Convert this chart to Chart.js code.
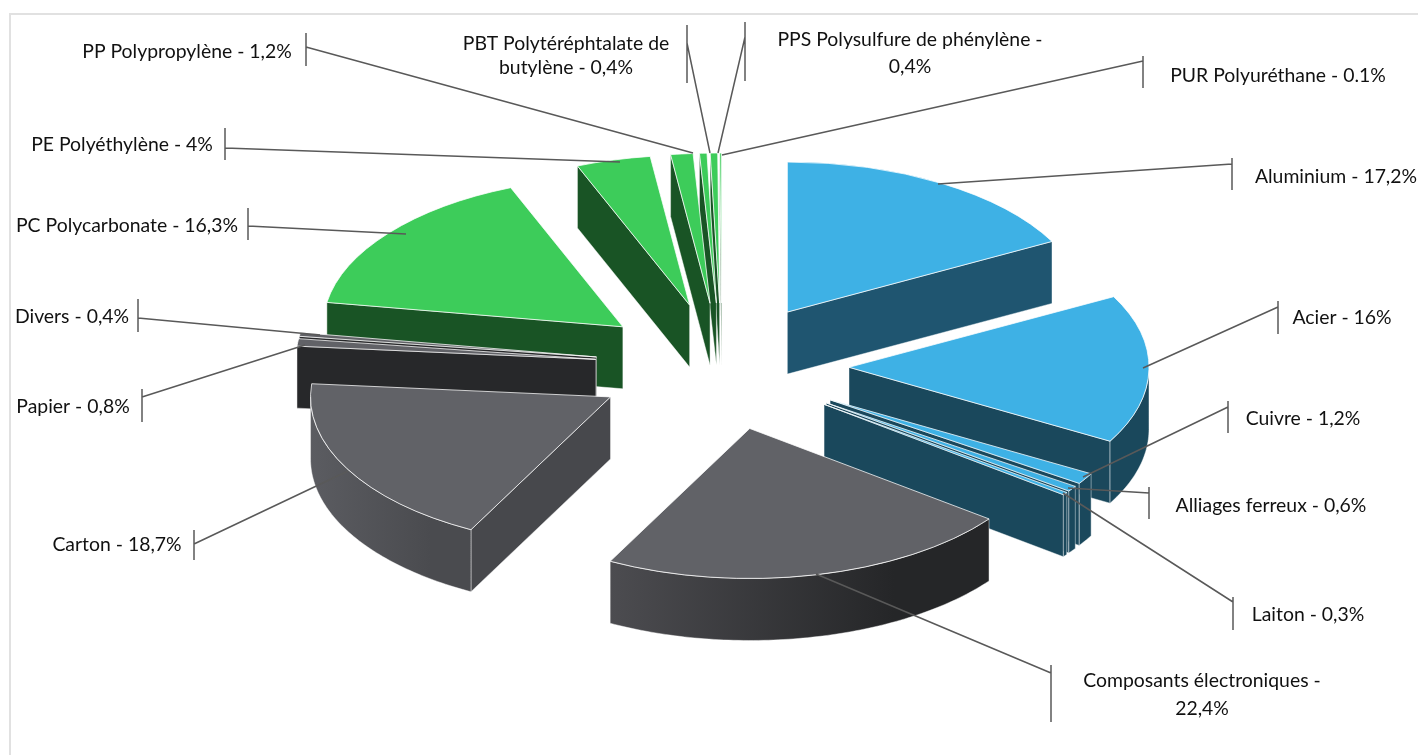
<!DOCTYPE html>
<html>
<head>
<meta charset="utf-8">
<style>
  html, body { margin: 0; padding: 0; background: #fff; overflow: hidden; }
  #box { position: absolute; left: 0; top: 0; width: 1418px; height: 755px; }
</style>
<script src="https://cdn.jsdelivr.net/npm/chart.js@4"></script>
</head>
<body>
<div id="box"><canvas id="pie"></canvas></div>
<script>
// slices, clockwise from 12 o'clock
const categories = ["Aluminium", "Acier", "Cuivre", "Alliages ferreux", "Laiton", "Composants électroniques", "Carton", "Papier", "Divers", "PC Polycarbonate", "PE Polyéthylène", "PP Polypropylène", "PBT Polytéréphtalate de butylène", "PPS Polysulfure de phénylène", "PUR Polyuréthane"];
const values = [17.2, 16, 1.2, 0.6, 0.3, 22.4, 18.7, 0.8, 0.4, 16.3, 4, 1.2, 0.4, 0.4, 0.1];

// label text, as printed (one entry per line)
const labelLines = [
  ["Aluminium - 17,2%"], ["Acier - 16%"], ["Cuivre - 1,2%"], ["Alliages ferreux - 0,6%"], ["Laiton - 0,3%"],
  ["Composants électroniques -", "22,4%"], ["Carton - 18,7%"], ["Papier - 0,8%"], ["Divers - 0,4%"],
  ["PC Polycarbonate - 16,3%"], ["PE Polyéthylène - 4%"], ["PP Polypropylène - 1,2%"],
  ["PBT Polytéréphtalate de", "butylène - 0,4%"], ["PPS Polysulfure de phénylène -", "0,4%"], ["PUR Polyuréthane - 0.1%"]
];

// label centres
const labelX = [1336, 1342, 1303, 1271, 1308, 1202, 117, 73, 72, 127, 122, 187, 566, 910, 1278];
const labelY = [177, 318, 419, 506, 615, 681, 545, 407, 317, 226, 145, 52, 44, 40, 76];
const lineGap = [0, 0, 0, 0, 0, 28, 0, 0, 0, 0, 0, 0, 24, 27, 0];

// leader lines: tick x, tick top, tick bottom, join y, end x, end y
const leaders = [
  [1232, 158, 190, 164, 938, 184], [1278, 301, 334, 307, 1143, 368], [1228, 401, 433, 407, 1083, 477],
  [1149, 487, 519, 493, 1068, 488], [1233, 597, 630, 602, 1063, 493], [1051, 665, 722, 673, 816, 574],
  [194, 530, 560, 544, 348, 471], [142, 389, 422, 397, 305, 345], [138, 299, 332, 318, 320, 335],
  [248, 208, 240, 226, 406, 234], [225, 128, 160, 148, 620, 162], [306, 33, 66, 47, 693, 153],
  [687, 25, 83, 43, 710, 153], [745, 22, 81, 37, 718, 153], [1143, 56, 88, 61, 722, 155]
];

// look of the 3D slab
const squash = 0.5;
const explode = 127;
const depth = 62;
const radius = 300;

const topColors = ["#3EB1E5", "#3EB1E5", "#3EB1E5", "#3EB1E5", "#3EB1E5", "#616267", "#616267", "#616267", "#616267", "#3DCC5A", "#3DCC5A", "#3DCC5A", "#3DCC5A", "#3DCC5A", "#3DCC5A"];
const faceColors = ["#1F5570", "#1A485C", "#1A485C", "#1A485C", "#1A485C", "#27282A", "#47484C", "#27282A", "#27282A", "#195425", "#195425", "#195425", "#195425", "#195425", "#195425"];
const rimLeft = ["#1A485C", "#1A485C", "#1A485C", "#1A485C", "#1A485C", "#4C4C50", "#5B5C61", "#27282A", "#27282A", "#195425", "#195425", "#195425", "#195425", "#195425", "#195425"];
const rimRight = ["#1A485C", "#1A485C", "#1A485C", "#1A485C", "#1A485C", "#252628", "#4A4B4F", "#27282A", "#27282A", "#195425", "#195425", "#195425", "#195425", "#195425", "#195425"];

function drawFace(ctx, points, fill) {
  ctx.beginPath();
  points.forEach((p, i) => (i ? ctx.lineTo(p[0], p[1]) : ctx.moveTo(p[0], p[1])));
  ctx.closePath();
  ctx.fillStyle = fill;
  ctx.fill();
  ctx.strokeStyle = "rgba(255,255,255,0.55)";
  ctx.lineWidth = 0.8;
  ctx.stroke();
}

// side walls, back slices first, in screen coordinates
function drawSides(chart, cy) {
  const ctx = chart.ctx;
  const arcs = chart.getDatasetMeta(0).data;
  const order = arcs.map((a, i) => i).sort((p, q) => arcs[p].y - arcs[q].y);
  const flat = (x, y) => [x, cy + (y - cy) * squash];

  order.forEach((i) => {
    const arc = arcs[i];
    const pt = (ang) => flat(arc.x + Math.cos(ang) * radius, arc.y + Math.sin(ang) * radius);
    const tip = flat(arc.x, arc.y);
    const wall = (p) => [tip, p, [p[0], p[1] + depth], [tip[0], tip[1] + depth]];

    if (Math.cos(arc.startAngle) < 0) drawFace(ctx, wall(pt(arc.startAngle)), faceColors[i]);
    if (Math.cos(arc.endAngle) > 0) drawFace(ctx, wall(pt(arc.endAngle)), faceColors[i]);

    // outer rim, only the part that faces the viewer
    const from = Math.max(arc.startAngle, 0);
    const to = Math.min(arc.endAngle, Math.PI);
    if (to > from) {
      const up = [];
      const steps = Math.max(2, Math.ceil((to - from) * 60));
      for (let s = 0; s <= steps; s++) up.push(pt(from + ((to - from) * s) / steps));
      const down = up.map((p) => [p[0], p[1] + depth]).reverse();
      const grad = ctx.createLinearGradient(up[steps][0], 0, up[0][0], 0);
      grad.addColorStop(0, rimLeft[i]);
      grad.addColorStop(0.75, rimRight[i]);
      grad.addColorStop(1, rimRight[i]);
      drawFace(ctx, up.concat(down), grad);
    }
  });
}

const slabPlugin = {
  id: "slab",
  // the offset option also grows the radius of thin slices, so push the arcs out here instead
  afterDatasetUpdate(chart) {
    chart.getDatasetMeta(0).data.forEach((arc) => {
      const mid = (arc.startAngle + arc.endAngle) / 2;
      arc.x += Math.cos(mid) * explode;
      arc.y += Math.sin(mid) * explode;
    });
  },
  beforeDatasetsDraw(chart) {
    const ctx = chart.ctx;
    const cy = (chart.chartArea.top + chart.chartArea.bottom) / 2;
    drawSides(chart, cy);
    ctx.save();
    ctx.translate(0, cy);
    ctx.scale(1, squash);
    ctx.translate(0, -cy);
  },
  afterDatasetsDraw(chart) {
    chart.ctx.restore();
  },
  afterDraw(chart) {
    const ctx = chart.ctx;
    // outer frame
    ctx.fillStyle = "#E1E1E1";
    ctx.fillRect(9, 13, 1409, 2);
    ctx.fillRect(9, 13, 2, 742);

    ctx.strokeStyle = "#595959";
    ctx.lineWidth = 1.5;
    leaders.forEach(([x, top, bottom, join, ex, ey]) => {
      ctx.beginPath();
      ctx.moveTo(x, top);
      ctx.lineTo(x, bottom);
      ctx.moveTo(x, join);
      ctx.lineTo(ex, ey);
      ctx.stroke();
    });

    ctx.fillStyle = "#111";
    ctx.font = '19.4px Lato, "Open Sans", sans-serif';
    ctx.textAlign = "center";
    ctx.textBaseline = "middle";
    labelLines.forEach((lines, i) => {
      lines.forEach((line, n) => ctx.fillText(line, labelX[i], labelY[i] + n * lineGap[i]));
    });
  }
};

new Chart(document.getElementById("pie"), {
  type: "pie",
  data: {
    labels: categories,
    datasets: [{
      data: values,
      backgroundColor: topColors,
      borderColor: "#ffffff",
      borderWidth: 1,
      clip: false
    }]
  },
  options: {
    responsive: true,
    maintainAspectRatio: false,
    animation: false,
    radius: radius,
    layout: { padding: { left: 26, bottom: 22 } },
    plugins: { legend: { display: false }, tooltip: { enabled: false } }
  },
  plugins: [slabPlugin]
});
</script>
</body>
</html>
